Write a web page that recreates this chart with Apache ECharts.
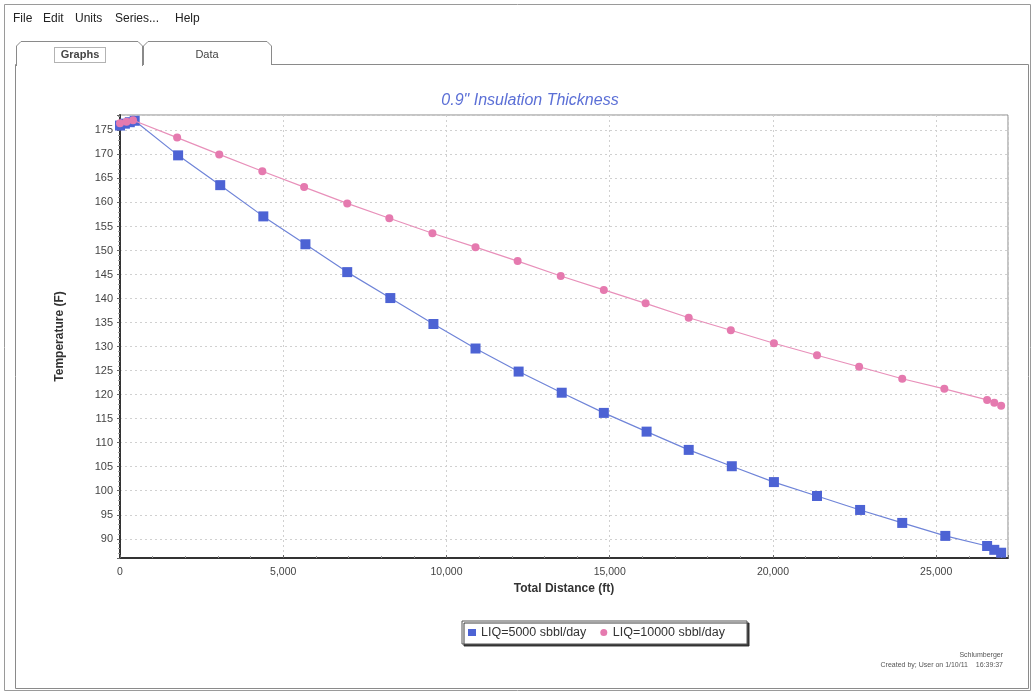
<!DOCTYPE html>
<html>
<head>
<meta charset="utf-8">
<script src="https://cdn.jsdelivr.net/npm/echarts@6/dist/echarts.min.js"></script>
<style>html,body{margin:0;padding:0;background:#fff}#c{width:1035px;height:693px}</style>
</head>
<body>
<div id="c"></div>
<script>
// ---- data ----
const titleText = '0.9" Insulation Thickness';
const seriesNames = ['LIQ=5000 sbbl/day', 'LIQ=10000 sbbl/day'];
const xAxisName = 'Total Distance (ft)';
const yAxisName = 'Temperature (F)';
const menuItems = ['File', 'Edit', 'Units', 'Series...', 'Help'];
const tabLabels = ['Graphs', 'Data'];
const footerLines = ['Schlumberger', 'Created by; User on 1/10/11    16:39:37'];

const distLiq5000 = [0, 150, 300, 450, 1780, 3070, 4390, 5680, 6960, 8280, 9600, 10890, 12210, 13530, 14820, 16130, 17420, 18740, 20030, 21350, 22670, 23960, 25280, 26560, 26780, 26990];
const tempLiq5000 = [176.0, 176.4, 176.7, 177.0, 169.8, 163.6, 157.1, 151.3, 145.5, 140.1, 134.7, 129.6, 124.8, 120.4, 116.2, 112.3, 108.5, 105.1, 101.8, 98.9, 96.0, 93.3, 90.6, 88.5, 87.7, 87.1];

const distLiq10000 = [0, 200, 400, 1750, 3040, 4360, 5640, 6960, 8250, 9570, 10890, 12180, 13500, 14820, 16100, 17420, 18710, 20030, 21350, 22640, 23960, 25250, 26560, 26780, 26990];
const tempLiq10000 = [176.5, 176.8, 177.1, 173.5, 170.0, 166.5, 163.2, 159.8, 156.7, 153.6, 150.7, 147.8, 144.7, 141.8, 139.0, 136.0, 133.4, 130.7, 128.2, 125.8, 123.3, 121.2, 118.9, 118.3, 117.7];

const xMin = 0, xMax = 27200, xStep = 5000;
const yMin = 86, yMax = 178.2, yStep = 5;

// ---- chart ----
const chart = echarts.init(document.getElementById('c'), null, {renderer: 'canvas'});
const pair = (xs, ys) => xs.map((x, i) => [x, ys[i]]);
const uiFont = '"Liberation Sans", Arial, sans-serif';

const graphics = [
  {type: 'rect', shape: {x: 4.5, y: 4.5, width: 1026, height: 686}, style: {fill: 'none', stroke: '#9a9a9a', lineWidth: 1}, z: 0},
  {type: 'rect', shape: {x: 15.5, y: 64.5, width: 1013, height: 624}, style: {fill: 'none', stroke: '#8a8a8a', lineWidth: 1}, z: 0},
  // tabs
  {type: 'polyline', shape: {points: [[143.5, 65], [143.5, 46], [148, 41.5], [267, 41.5], [271.5, 46], [271.5, 65]]}, style: {fill: '#fff', stroke: '#8a8a8a', lineWidth: 1}, z: 1},
  {type: 'polyline', shape: {points: [[16.5, 66], [16.5, 46], [21, 41.5], [138, 41.5], [142.5, 46], [142.5, 66]]}, style: {fill: '#fff', stroke: '#8a8a8a', lineWidth: 1}, z: 2},
  {type: 'line', shape: {x1: 17, y1: 64.5, x2: 142, y2: 64.5}, style: {stroke: '#fff', lineWidth: 2}, z: 3},
  {type: 'rect', shape: {x: 54.5, y: 47.5, width: 51, height: 15}, style: {fill: 'none', stroke: '#666', lineWidth: 1, lineDash: [1, 1]}, z: 3},
  {type: 'text', x: 80, y: 55, style: {text: tabLabels[0], font: 'bold 11px ' + uiFont, fill: '#444', align: 'center', verticalAlign: 'middle'}, z: 3},
  {type: 'text', x: 207, y: 55, style: {text: tabLabels[1], font: '11px ' + uiFont, fill: '#444', align: 'center', verticalAlign: 'middle'}, z: 3},
  // footer
  {type: 'text', x: 1003, y: 655, style: {text: footerLines[0], font: '7px ' + uiFont, fill: '#555', align: 'right', verticalAlign: 'middle'}, z: 3},
  {type: 'text', x: 1003, y: 665, style: {text: footerLines[1], font: '7px ' + uiFont, fill: '#555', align: 'right', verticalAlign: 'middle'}, z: 3}
];
// menu
const menuX = [13, 43, 75, 115, 175];
menuItems.forEach((m, i) => {
  graphics.push({type: 'text', x: menuX[i], y: 19, style: {text: m, font: '12px ' + uiFont, fill: '#222', align: 'left', verticalAlign: 'middle'}, z: 3});
});

const option = {
  backgroundColor: '#fff',
  animation: false,
  title: {
    text: titleText, left: 525, top: 88, textAlign: 'center',
    textStyle: {color: '#5b6fd6', fontStyle: 'italic', fontWeight: 'normal', fontSize: 16, fontFamily: uiFont}
  },
  grid: {left: 120, right: 27, top: 115, bottom: 135, show: true, borderColor: '#8a8a8a', borderWidth: 1, backgroundColor: '#fff'},
  legend: {
    left: 462, top: 621,
    data: [{name: seriesNames[0], icon: 'rect'}, {name: seriesNames[1], icon: 'circle'}],
    itemWidth: 8, itemHeight: 7, itemGap: 14,
    padding: [5, 22, 5, 6],
    backgroundColor: '#fff', borderColor: '#555', borderWidth: 1,
    shadowColor: 'rgba(40,40,40,0.9)', shadowOffsetX: 2, shadowOffsetY: 2, shadowBlur: 0,
    textStyle: {fontSize: 12.5, color: '#333', fontFamily: uiFont}
  },
  xAxis: {
    type: 'value', min: xMin, max: xMax, interval: xStep,
    name: xAxisName, nameLocation: 'middle', nameGap: 23,
    nameTextStyle: {fontWeight: 'bold', fontSize: 12, color: '#333', fontFamily: uiFont},
    axisLine: {show: true, onZero: false, lineStyle: {color: '#333', width: 2}},
    axisTick: {show: true, inside: true, length: 3, lineStyle: {color: '#666'}},
    minorTick: {show: true, splitNumber: 5, length: 2, lineStyle: {color: '#999'}},
    axisLabel: {fontSize: 10.5, color: '#444', fontFamily: uiFont, margin: 9,
      formatter: v => (v % xStep === 0 ? v.toLocaleString('en-US') : '')},
    splitLine: {show: true, lineStyle: {color: '#d0d0d0', type: [2, 3], width: 1}}
  },
  yAxis: {
    type: 'value', min: yMin, max: yMax, minInterval: yStep, maxInterval: yStep,
    name: yAxisName, nameLocation: 'middle', nameGap: 54, nameRotate: 90,
    nameTextStyle: {fontWeight: 'bold', fontSize: 12, color: '#333', fontFamily: uiFont},
    axisLine: {show: true, onZero: false, lineStyle: {color: '#333', width: 2}},
    axisTick: {show: true, inside: false, length: 3, lineStyle: {color: '#666'}},
    minorTick: {show: true, splitNumber: 5, length: 2, lineStyle: {color: '#999'}},
    axisLabel: {fontSize: 11, color: '#444', fontFamily: uiFont, margin: 7,
      formatter: v => (Math.abs(v % yStep) < 1e-6 ? String(v) : '')},
    splitLine: {show: true, lineStyle: {color: '#d0d0d0', type: [2, 3], width: 1}}
  },
  series: [
    {
      name: seriesNames[0], type: 'line', data: pair(distLiq5000, tempLiq5000),
      symbol: 'rect', symbolSize: 10, showAllSymbol: true,
      itemStyle: {color: '#4d63d4'},
      lineStyle: {color: '#6f84d8', width: 1.2}, z: 3
    },
    {
      name: seriesNames[1], type: 'line', data: pair(distLiq10000, tempLiq10000),
      symbol: 'circle', symbolSize: 8, showAllSymbol: true,
      itemStyle: {color: '#e57aaf'},
      lineStyle: {color: '#e890ba', width: 1.2}, z: 4
    }
  ],
  graphic: graphics
};
chart.setOption(option);
</script>
</body>
</html>
